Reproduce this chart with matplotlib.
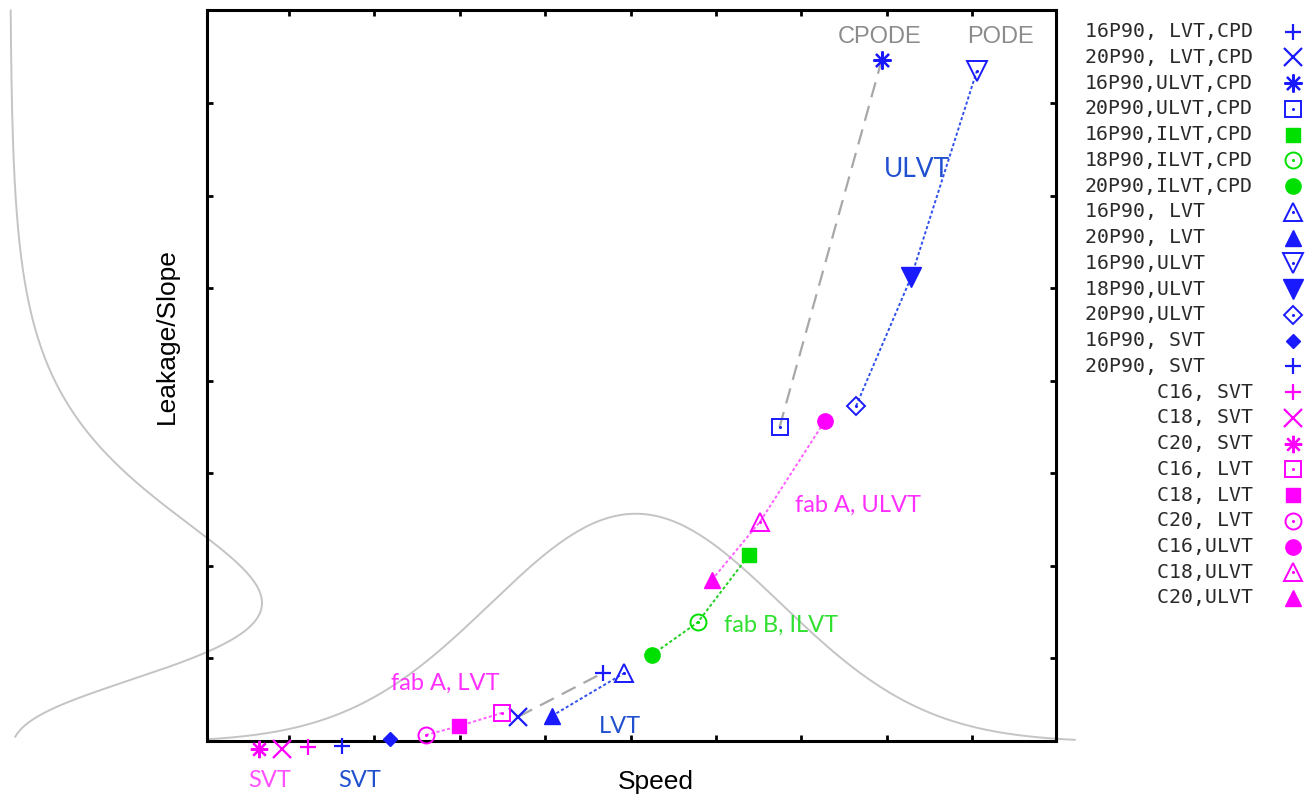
import numpy as np
import matplotlib
matplotlib.use("Agg")
import matplotlib.pyplot as plt

W, H, DPI = 1314, 797, 100

# ---- data -------------------------------------------------------------
labels = [
    "16P90, LVT,CPD", "20P90, LVT,CPD", "16P90,ULVT,CPD", "20P90,ULVT,CPD",
    "16P90,ILVT,CPD", "18P90,ILVT,CPD", "20P90,ILVT,CPD",
    "16P90, LVT    ", "20P90, LVT    ", "16P90,ULVT    ", "18P90,ULVT    ",
    "20P90,ULVT    ", "16P90, SVT    ", "20P90, SVT    ",
    "      C16, SVT", "      C18, SVT", "      C20, SVT",
    "      C16, LVT", "      C18, LVT", "      C20, LVT",
    "      C16,ULVT", "      C18,ULVT", "      C20,ULVT",
]
speed = [4.673, 3.685, 7.940, 6.744, 6.386, 5.786, 5.247,
         4.926, 4.076, 9.053, 8.283, 7.639, 2.183, 1.617,
         1.228, 0.918, 0.643, 3.491, 2.994, 2.604, 7.276, 6.515, 5.950]
leakage = [0.838, 0.366, 7.465, 3.498, 2.114, 1.386, 1.033,
           0.838, 0.373, 7.346, 5.114, 3.725, 0.125, 0.049,
           0.038, 0.017, 0.017, 0.406, 0.265, 0.168, 3.566, 2.474, 1.844]

# trend lines joining corners of the same flavour (indices into the lists)
cpd_trends = [[1, 0], [3, 2]]
blue_trends = [[8, 7], [11, 10, 9]]
green_trends = [[6, 5, 4]]
magenta_trends = [[19, 18, 17], [22, 21, 20]]

# speed distribution (normal) and leakage distribution (skewed)
speed_mean, speed_sigma, speed_peak, speed_base = 5.06, 1.70, 2.47, 0.09
leak_mode, leak_shift, leak_logsigma = 1.595, 0.546, 0.405
leak_base, leak_peak = -2.267, 2.951

# ---- styles -----------------------------------------------------------
BLUE, MAG, GREEN = "#1a1aff", "#ff00ff", "#00e000"
ASTER = (8, 2, 0)
# (marker, colour, filled, size)
styles = [
    ("+", BLUE, True, 12), ("x", BLUE, True, 12.5), (ASTER, BLUE, True, 13),
    ("s", BLUE, False, 11.5), ("s", GREEN, True, 10.5), ("o", GREEN, False, 11.5),
    ("o", GREEN, True, 11), ("^", BLUE, False, 13.5), ("^", BLUE, True, 12),
    ("v", BLUE, False, 14), ("v", BLUE, True, 14), ("D", BLUE, False, 9),
    ("D", BLUE, True, 7), ("+", BLUE, True, 12),
    ("+", MAG, True, 12), ("x", MAG, True, 12.5), (ASTER, MAG, True, 12.5),
    ("s", MAG, False, 11.5), ("s", MAG, True, 10.5), ("o", MAG, False, 11.5),
    ("o", MAG, True, 11), ("^", MAG, False, 13.5), ("^", MAG, True, 12),
]


def draw_marker(a, x, y, style, z=6):
    m, c, filled, ms = style
    if m in ("+", "x") or m == ASTER:
        a.plot(x, y, ls="none", marker=m, ms=ms, mew=1.6, color=c,
               clip_on=False, zorder=z)
    elif filled:
        a.plot(x, y, ls="none", marker=m, ms=ms, mfc=c, mec=c, mew=1.0,
               clip_on=False, zorder=z)
    else:
        a.plot(x, y, ls="none", marker=m, ms=ms, mfc="none", mec=c, mew=1.4,
               clip_on=False, zorder=z)
        a.plot(x, y, ls="none", marker="o", ms=2.2, mfc=c, mec="none",
               clip_on=False, zorder=z)


fig = plt.figure(figsize=(W / DPI, H / DPI), dpi=DPI)
ax = fig.add_axes([207 / W, 1 - 741 / H, (1056 - 207) / W, (741 - 10) / H])
ax.set_xlim(0.04, 9.98)
ax.set_ylim(0.103, 8.006)
ax.set_xticks(range(1, 10))
ax.set_yticks(range(1, 8))
ax.tick_params(direction="in", length=4.5, width=2.0, top=True, right=True,
               labelbottom=False, labelleft=False)
for sp in ax.spines.values():
    sp.set_linewidth(2.2)

# distributions
sx = np.linspace(0.04, 10.2, 400)
sy = speed_base + speed_peak * np.exp(-(sx - speed_mean) ** 2 / (2 * speed_sigma ** 2))
ax.plot(sx, sy, color="#c4c4c4", lw=1.4, clip_on=False, zorder=1)

ly = np.linspace(0.15, 8.0, 500)
lx = leak_base + leak_peak * np.exp(
    -(np.log(ly + leak_shift) - np.log(leak_mode + leak_shift)) ** 2 / (2 * leak_logsigma ** 2))
ax.plot(lx, ly, color="#c4c4c4", lw=1.4, clip_on=False, zorder=1)

# trend lines
sp_arr, lk_arr = np.array(speed), np.array(leakage)
for idx in cpd_trends:
    ax.plot(sp_arr[idx], lk_arr[idx], color="#a8a8a8", lw=1.6, dashes=(7, 4), zorder=3)
for idx in blue_trends:
    ax.plot(sp_arr[idx], lk_arr[idx], color="#3050ee", lw=1.4, dashes=(1.6, 1.2), zorder=3)
for idx in green_trends:
    ax.plot(sp_arr[idx], lk_arr[idx], color="#22d022", lw=1.4, dashes=(1.6, 1.2), zorder=3)
for idx in magenta_trends:
    ax.plot(sp_arr[idx], lk_arr[idx], color="#ff60ff", lw=1.4, dashes=(1.6, 1.2), zorder=3)

for x, y, st in zip(speed, leakage, styles):
    draw_marker(ax, x, y, st)

# annotations
ann_font = dict(family="Lato", fontsize=17)
ax.text(0.772, -0.394, "SVT", color="#ff50ff", ha="center", va="baseline", clip_on=False, **ann_font)
ax.text(1.826, -0.394, "SVT", color="#2050d0", ha="center", va="baseline", clip_on=False, **ann_font)
ax.text(2.833, 0.654, "fab A, LVT", color="#ff30ff", ha="center", va="baseline", **ann_font)
ax.text(4.876, 0.190, "LVT", color="#2050d0", ha="center", va="baseline", **ann_font)
ax.text(6.761, 1.285, "fab B, ILVT", color="#30e030", ha="center", va="baseline", **ann_font)
ax.text(7.657, 2.579, "fab A, ULVT", color="#ff30ff", ha="center", va="baseline", **ann_font)
ax.text(8.350, 6.200, "ULVT", color="#2050d0", ha="center", va="baseline",
        family="Lato", fontsize=19)
ax.text(7.917, 7.649, "CPODE", color="#8c8c8c", ha="center", va="baseline",
        family="Liberation Sans", fontsize=17)
ax.text(9.326, 7.649, "PODE", color="#8c8c8c", ha="center", va="baseline",
        family="Liberation Sans", fontsize=17)

# axis titles
fig.text(656 / W, 1 - 789 / H, "Speed", ha="center", va="baseline",
         family="Liberation Sans", fontsize=19)
fig.text(167 / W, 1 - 336 / H, "Leakage/Slope", ha="center", va="center",
         rotation=90, family="Liberation Sans", fontsize=19)

# key
lg = fig.add_axes([1075 / W, 1 - 620 / H, (W - 1075) / W, 610 / H])
lg.set_xlim(0, W - 1075)
lg.set_ylim((620 - 31.7) / 25.74, -(31.7 - 10) / 25.74)
lg.axis("off")
for i, (lab, st) in enumerate(zip(labels, styles)):
    lg.text(10, i, lab, family="DejaVu Sans Mono", fontsize=14.3, color="#2a2a2a",
            ha="left", va="center")
    draw_marker(lg, 218, i, st)

fig.savefig("out.png", dpi=DPI)
